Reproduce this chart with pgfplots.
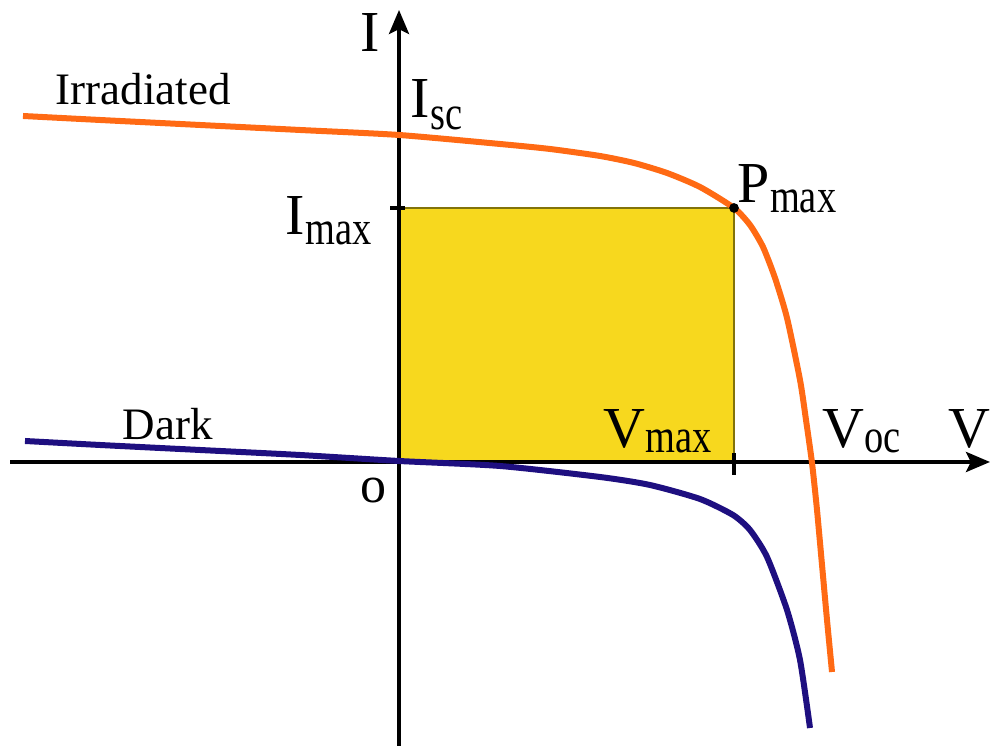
\documentclass[border=0pt]{standalone}
\usepackage{fontspec}
\setmainfont{Liberation Serif}
\usepackage{graphicx}
\usepackage{pgfplots}
\pgfplotsset{compat=1.18}
\usetikzlibrary{arrows.meta}

\definecolor{irrad}{RGB}{255,106,20}
\definecolor{darkc}{RGB}{30,15,128}
\definecolor{pfill}{RGB}{247,216,30}
\definecolor{pedge}{RGB}{130,115,10}

% symbol with a narrow, lowered subscript
\newcommand{\sub}[3][2.5pt]{#2\raisebox{-#1}{\fontsize{12}{12}\selectfont\scalebox{0.8}[1]{#3}}}

% I-V characteristic of the irradiated cell (V, I)
\pgfplotstableread{
V I
-376 346
-299 342
-199 337
-99 332
0 327
101 318
151 313
201 306
235 299
268 289
301 275
335 254
351 237
364 215
376 184
388 144
401 82
407 42
413 -1
418 -48
423 -103
428 -158
433 -210
}\irradiated

% I-V characteristic in the dark
\pgfplotstableread{
V I
-374 21
-299 17
-199 12
-99 7
0 1
101 -4
201 -15
251 -23
301 -37
334 -53
351 -68
368 -95
388 -148
401 -198
411 -266
}\darkcurve

\begin{document}
\begin{tikzpicture}
\begin{axis}[
  scale only axis, width=248.25pt, height=186.5pt,
  xmin=-399, xmax=594, ymin=-284, ymax=462,
  hide axis, clip=false]

% maximum power rectangle
\addplot[fill=pfill, draw=pedge, line width=0.5pt]
  coordinates {(0,0) (0,254) (335,254) (335,0)} -- cycle;

% axes
\draw[line width=1pt, -{Stealth[length=6pt,width=5pt,inset=1.2pt]}]
  (axis cs:-389,0) -- (axis cs:591,0);
\draw[line width=1pt, -{Stealth[length=6pt,width=5pt,inset=1.2pt]}]
  (axis cs:0,-284) -- (axis cs:0,452);
\draw[line width=0.8pt] (axis cs:-9,254) -- (axis cs:6,254);
\draw[line width=0.8pt] (axis cs:335,9) -- (axis cs:335,-13);

% curves
\addplot[darkc, line width=1.5pt, smooth, tension=0.4] table {\darkcurve};
\addplot[irrad, line width=1.5pt, smooth, tension=0.4] table {\irradiated};
\addplot[only marks, mark=*, mark size=1pt, black] coordinates {(335,254)};

% labels
\begin{scope}[every node/.style={inner sep=0pt, anchor=base west}]
\node[font=\fontsize{14.5}{14.5}\selectfont] at (axis cs:-39,410) {I};
\node[font=\fontsize{14.5}{14.5}\selectfont] at (axis cs:11,344) {\sub[3pt]{I}{sc}};
\node[font=\fontsize{11.25}{11.25}\selectfont] at (axis cs:-344,357) {Irradiated};
\node[font=\fontsize{14.5}{14.5}\selectfont] at (axis cs:-114,227) {\sub{I}{max}};
\node[font=\fontsize{14.5}{14.5}\selectfont] at (axis cs:338,259) {\sub{P}{max}};
\node[font=\fontsize{11.25}{11.25}\selectfont] at (axis cs:-277,22) {Dark};
\node[font=\fontsize{13}{13}\selectfont] at (axis cs:-39,-41) {o};
\node[font=\fontsize{14.5}{14.5}\selectfont] at (axis cs:204,14) {\sub[1.2pt]{V}{max}};
\node[font=\fontsize{14.5}{14.5}\selectfont] at (axis cs:423,14) {\sub[1.2pt]{V}{oc}};
\node[font=\fontsize{14.5}{14.5}\selectfont] at (axis cs:549,14) {V};
\end{scope}
\end{axis}
\pgfresetboundingbox
\path[use as bounding box] (current axis.south west) rectangle (current axis.north east);
\end{tikzpicture}
\end{document}
